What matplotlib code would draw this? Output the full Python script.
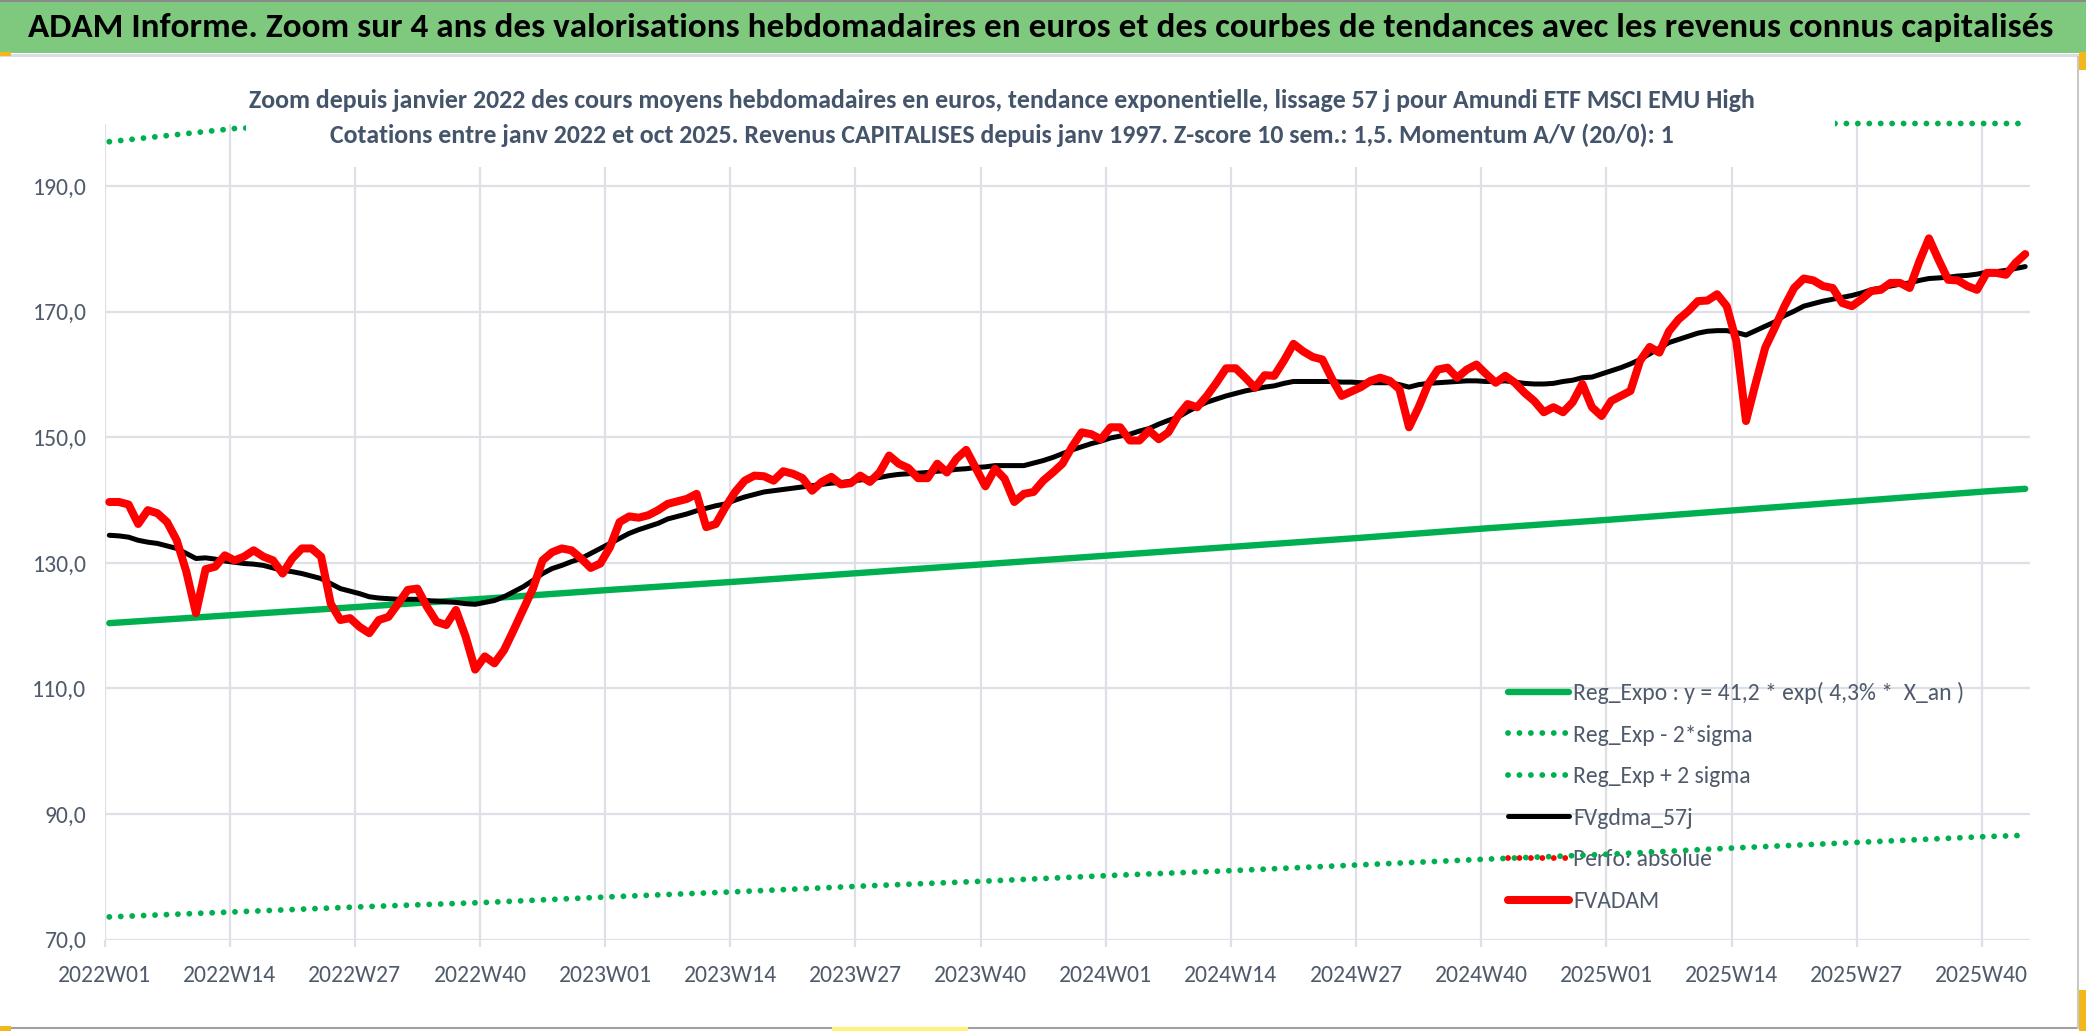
import numpy as np
import matplotlib
matplotlib.use("Agg")
import matplotlib.pyplot as plt
from matplotlib.patches import Rectangle
from matplotlib.lines import Line2D
from matplotlib import font_manager

# --- données ---

# semaines ISO de 2022W01 à 2025W44 (fin oct 2025)
weeks = [f"{y}W{w:02d}" for y, n in ((2022, 52), (2023, 52), (2024, 52), (2025, 44))
         for w in range(1, n + 1)]

# FVADAM : cours moyens hebdomadaires (EUR)
fvadam = [
    139.7, 139.7, 139.3, 136.2, 138.4, 137.9, 136.5, 133.6, 128.6, 122.0,
    129.0, 129.4, 131.2, 130.4, 131.0, 132.0, 131.0, 130.4, 128.3, 130.7,
    132.3, 132.3, 131.0, 123.5, 120.9, 121.2, 119.8, 118.8, 120.9, 121.4,
    123.5, 125.7, 125.9, 123.0, 120.6, 120.1, 122.5, 118.3, 113.0, 115.1,
    114.0, 116.1, 119.3, 122.6, 125.9, 130.4, 131.7, 132.3, 132.0, 130.7,
    129.2, 129.9, 132.5, 136.5, 137.4, 137.2, 137.6, 138.4, 139.4, 139.8,
    140.2, 141.0, 135.7, 136.2, 138.9, 141.3, 143.1, 143.9, 143.8, 143.1,
    144.6, 144.2, 143.5, 141.5, 142.9, 143.7, 142.5, 142.7, 143.9, 142.9,
    144.4, 147.1, 145.8, 145.1, 143.5, 143.5, 145.8, 144.4, 146.6, 148.0,
    145.1, 142.2, 145.0, 143.4, 139.7, 141.0, 141.3, 143.1, 144.4, 145.8,
    148.5, 150.8, 150.5, 149.7, 151.6, 151.6, 149.5, 149.5, 151.1, 149.7,
    150.8, 153.4, 155.3, 154.8, 156.6, 158.7, 161.0, 161.0, 159.5, 157.9,
    159.9, 159.8, 162.2, 164.9, 163.7, 162.8, 162.4, 159.3, 156.6, 157.3,
    158.0, 159.0, 159.5, 159.0, 157.7, 151.6, 154.8, 158.5, 160.8, 161.1,
    159.5, 160.8, 161.6, 160.1, 158.7, 159.8, 158.7, 157.1, 155.8, 154.0,
    154.8, 154.0, 155.6, 158.5, 154.8, 153.4, 155.8, 156.6, 157.4, 162.2,
    164.4, 163.5, 166.9, 168.8, 170.1, 171.7, 171.8, 172.8, 170.9, 165.3,
    152.6, 158.6, 164.3, 167.5, 170.9, 173.8, 175.3, 175.0, 174.1, 173.8,
    171.4, 170.9, 172.0, 173.3, 173.5, 174.6, 174.6, 173.8, 178.0, 181.7,
    178.3, 175.1, 175.0, 174.1, 173.5, 176.2, 176.2, 175.9, 177.8, 179.2,
]

# FVgdma_57j : moyenne lissée 57 jours
fvgdma = [
    134.4, 134.3, 134.1, 133.6, 133.3, 133.1, 132.7, 132.3, 131.5, 130.7,
    130.8, 130.6, 130.3, 130.1, 129.9, 129.8, 129.6, 129.2, 128.8, 128.6,
    128.3, 127.9, 127.5, 126.7, 125.9, 125.5, 125.1, 124.6, 124.4, 124.3,
    124.2, 124.2, 124.2, 124.0, 123.9, 123.8, 123.7, 123.5, 123.4, 123.7,
    124.0, 124.6, 125.4, 126.2, 127.2, 128.3, 129.1, 129.6, 130.2, 130.7,
    131.5, 132.3, 133.1, 133.9, 134.7, 135.3, 135.8, 136.3, 137.0, 137.4,
    137.8, 138.3, 138.7, 139.1, 139.4, 140.0, 140.5, 140.9, 141.3, 141.5,
    141.7, 141.9, 142.1, 142.3, 142.5, 142.7, 142.8, 143.0, 143.2, 143.4,
    143.6, 143.9, 144.1, 144.2, 144.3, 144.4, 144.6, 144.7, 144.9, 145.0,
    145.2, 145.3, 145.5, 145.5, 145.5, 145.5, 145.9, 146.3, 146.8, 147.4,
    148.0, 148.5, 149.0, 149.4, 149.9, 150.2, 150.5, 151.0, 151.4, 152.1,
    152.7, 153.2, 154.1, 154.9, 155.6, 156.1, 156.6, 157.0, 157.4, 157.7,
    158.0, 158.2, 158.6, 158.9, 158.9, 158.9, 158.9, 158.9, 158.8, 158.8,
    158.7, 158.7, 158.7, 158.7, 158.4, 158.0, 158.4, 158.6, 158.7, 158.8,
    158.9, 159.0, 159.0, 158.9, 158.9, 159.0, 158.8, 158.6, 158.5, 158.5,
    158.6, 158.9, 159.1, 159.5, 159.6, 160.1, 160.6, 161.1, 161.7, 162.4,
    163.3, 164.2, 165.1, 165.6, 166.1, 166.6, 166.9, 167.0, 167.0, 166.7,
    166.3, 167.0, 167.7, 168.4, 169.4, 170.1, 170.9, 171.3, 171.7, 172.0,
    172.3, 172.6, 173.0, 173.5, 173.8, 174.1, 174.4, 174.6, 175.0, 175.3,
    175.4, 175.5, 175.7, 175.8, 176.0, 176.3, 176.4, 176.6, 176.9, 177.2,
]

# régression exponentielle et bandes +/- 2 sigma, lues toutes les 13 semaines
reg_weeks = ["2022W01", "2022W14", "2022W27", "2022W40", "2023W01", "2023W14",
             "2023W27", "2023W40", "2024W01", "2024W14", "2024W27", "2024W40",
             "2025W01", "2025W14", "2025W27", "2025W40", "2025W44"]
reg_expo = [120.4, 121.7, 123.0, 124.3, 125.7, 127.0, 128.4, 129.8, 131.2,
            132.6, 134.0, 135.5, 136.9, 138.4, 139.9, 141.4, 141.8]
reg_low = [73.6, 74.4, 75.2, 75.9, 76.8, 77.6, 78.5, 79.3, 80.2,
           81.0, 81.9, 82.8, 83.6, 84.6, 85.5, 86.4, 86.6]
reg_high = [197.1, 199.2, 201.4, 203.5, 205.7, 207.9, 210.2, 212.5, 214.8,
            217.1, 219.4, 221.8, 224.2, 226.6, 229.0, 231.5, 232.2]

title = ("ADAM Informe. Zoom sur 4 ans des valorisations hebdomadaires en euros "
         "et des courbes de tendances avec les revenus connus capitalisés")
sub1 = ("Zoom depuis janvier 2022 des cours moyens hebdomadaires en euros, tendance "
        "exponentielle, lissage 57 j pour Amundi ETF MSCI EMU High")
sub2 = ("Cotations entre janv 2022 et oct 2025. Revenus CAPITALISES depuis janv 1997. "
        "Z-score 10 sem.: 1,5. Momentum A/V (20/0): 1")

# --- mise en page ---
W, H = 2086, 1031
YMIN, YMAX = 70, 200
GREEN = "#00B050"
GRID = "#DDE0E6"
TXT = "#4F5A6B"

# police proche de Calibri si disponible, sinon DejaVu Sans condensée
names = {f.name for f in font_manager.fontManager.ttflist}
if "Carlito" in names:
    plt.rcParams["font.family"] = ["Carlito", "DejaVu Sans"]
else:
    plt.rcParams["font.family"] = ["DejaVu Sans"]
    plt.rcParams["font.stretch"] = "condensed"

def fx(px):
    return px / W

def fy(py):
    return 1 - py / H

fig = plt.figure(figsize=(W / 100, H / 100), dpi=100)
fig.patch.set_facecolor("white")
ax = fig.add_axes([fx(104.5), fy(939.5), fx(2030) - fx(104.5), fy(123.5) - fy(939.5)])

x = np.arange(len(weeks)) + 0.5
rx = np.array([weeks.index(w) for w in reg_weeks]) + 0.5
dots = (0, (0.01, 1.95))

ax.plot(rx, reg_expo, color=GREEN, lw=4.6, solid_capstyle="round",
        label="Reg_Expo : y = 41,2 * exp( 4,3% *  X_an )")
ax.plot(rx, reg_low, color=GREEN, lw=4.2, linestyle=dots, dash_capstyle="round",
        label="Reg_Exp - 2*sigma")
ax.plot(rx, np.minimum(reg_high, YMAX), color=GREEN, lw=4.2, linestyle=dots,
        dash_capstyle="round", clip_on=False, label="Reg_Exp + 2 sigma")
ax.plot(x, fvgdma, color="black", lw=3.6, solid_capstyle="round", label="FVgdma_57j")
ax.plot([], [], color="#FF0000", lw=4.2, linestyle=dots, dash_capstyle="round",
        label="Perfo: absolue")
ax.plot(x, fvadam, color="#FF0000", lw=5.8, solid_capstyle="round",
        solid_joinstyle="round", label="FVADAM")

ax.set_xlim(0, len(weeks))
ax.set_ylim(YMIN, YMAX)
ax.set_xticks(np.arange(0, len(weeks), 13))
ax.set_xticklabels(weeks[::13])
yt = np.arange(70, 191, 20)
ax.set_yticks(yt)
ax.set_yticklabels([f"{v:.1f}".replace(".", ",") for v in yt])
ax.grid(True, color=GRID, lw=1.6)
ax.set_axisbelow(True)
for s in ax.spines.values():
    s.set_visible(False)
ax.tick_params(axis="x", length=5, width=1.6, color=GRID, pad=13,
               labelsize=17, labelcolor=TXT)
ax.tick_params(axis="y", length=0, pad=13, labelsize=17, labelcolor=TXT)

leg = ax.legend(loc="upper left", bbox_to_anchor=(fx(1508), fy(682)),
                bbox_transform=fig.transFigure, frameon=False, fontsize=17,
                handlelength=2.6, handletextpad=0.15, labelspacing=0.87,
                borderpad=0, borderaxespad=0)
leg.set_zorder(1.5)
for t in leg.get_texts():
    t.set_color(TXT)

# bandeau vert et cartouche du titre
fig.patches.append(Rectangle((0, fy(53)), 1, fy(0) - fy(53), transform=fig.transFigure,
                             facecolor="#7FC97F", edgecolor="none", zorder=1))
fig.patches.append(Rectangle((0, fy(57)), 1, fy(54) - fy(57), transform=fig.transFigure,
                             facecolor="#DADDE2", edgecolor="none", zorder=1))
fig.patches.append(Rectangle((fx(246), fy(167)), fx(1835) - fx(246), fy(58) - fy(167),
                             transform=fig.transFigure, facecolor="white",
                             edgecolor="none", zorder=1))
# poignées de sélection
for (x0, y0, x1, y1, c) in [(0, 52, 11, 56, "#F2B81B"), (2079, 52, 2086, 70, "#F2B81B"),
                            (0, 1026, 11, 1031, "#F2B81B"), (2079, 990, 2086, 1031, "#F2B81B"),
                            (832, 1027, 968, 1031, "#FFF27A")]:
    fig.patches.append(Rectangle((fx(x0), fy(y1)), fx(x1) - fx(x0), fy(y0) - fy(y1),
                                 transform=fig.transFigure, facecolor=c,
                                 edgecolor="none", zorder=2))
fig.add_artist(Line2D([0, 1], [fy(1028), fy(1028)], color="#A0A0A0", lw=1.5))
fig.add_artist(Line2D([fx(2078), fx(2078)], [fy(57), fy(1028)], color="#C8C8C8", lw=1.5))
fig.add_artist(Line2D([0, 1], [fy(0.5), fy(0.5)], color="#8A8A8A", lw=1.5))

r = fig.canvas.get_renderer()

def fit(t, width_px):
    w = t.get_window_extent(r).width
    t.set_fontsize(t.get_fontsize() * width_px / w)

t0 = fig.text(fx(1041), fy(27), title, ha="center", va="center", fontsize=24,
              fontweight="bold", color="black", zorder=3)
fit(t0, 2025)
t1 = fig.text(fx(1002), fy(101), sub1, ha="center", va="center", fontsize=20,
              fontweight="bold", color="#44546A", zorder=3)
fit(t1, 1506)
t2 = fig.text(fx(1002), fy(135), sub2, ha="center", va="center",
              fontsize=t1.get_fontsize(), fontweight="bold", color="#44546A", zorder=3)

fig.savefig("out.png", dpi=100)
